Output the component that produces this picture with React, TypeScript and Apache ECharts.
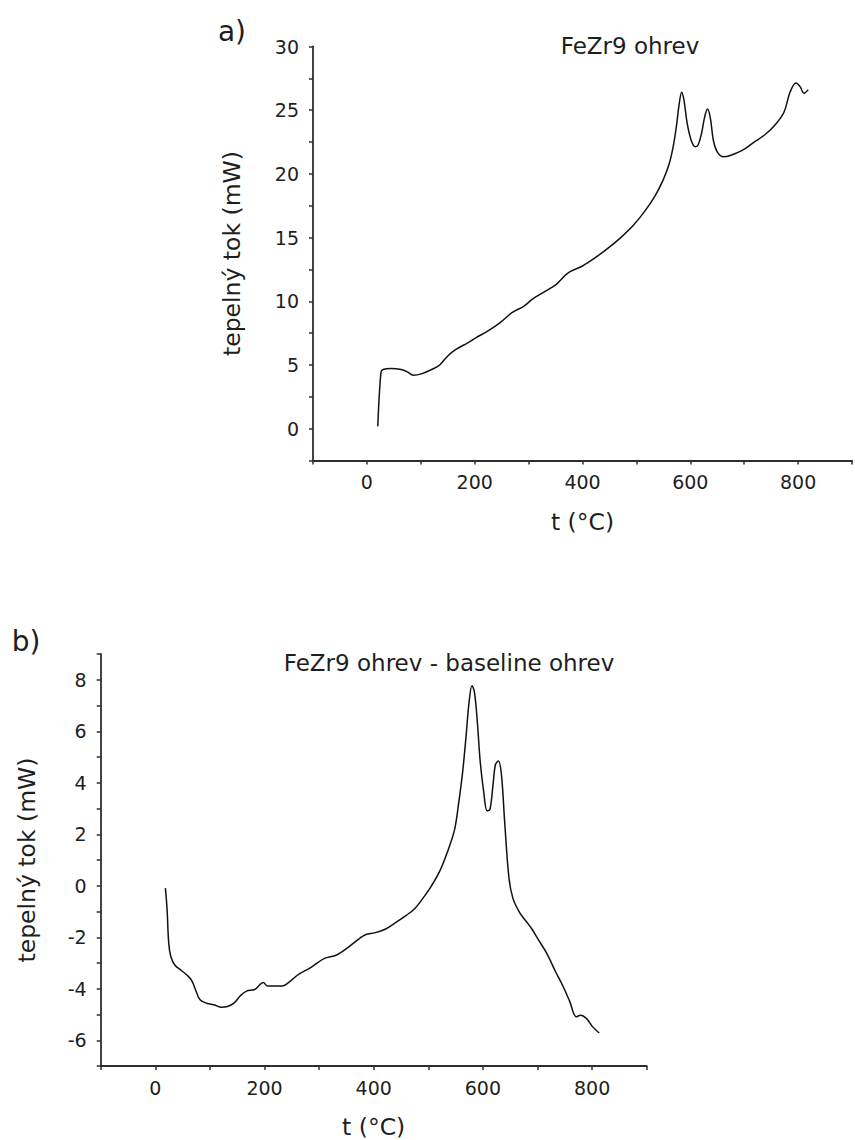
import React, { useEffect, useRef } from "react";
import * as echarts from "echarts";

// Panel a) FeZr9 ohrev
const tempA = [20.2, 26, 30, 45, 63.5, 75, 86, 101, 120, 134.6, 149.5, 164.5, 187, 202, 224, 246.7, 269, 291.6, 306.5, 329, 351.4, 374, 400, 422.4, 448.6, 471, 493.5, 516, 534.6, 549.5, 560.7, 568, 574, 579.4, 584, 588.4, 594.4, 601.9, 609.3, 614.6, 620.6, 626.5, 631.8, 637, 643, 650.5, 661.7, 673, 695.3, 717.8, 740, 758.7, 773.8, 785, 796, 803.7, 811, 818.7];
const flowA = [0.18, 4.4, 4.64, 4.72, 4.64, 4.46, 4.2, 4.3, 4.64, 4.98, 5.69, 6.2, 6.74, 7.13, 7.66, 8.31, 9.1, 9.62, 10.15, 10.73, 11.33, 12.25, 12.77, 13.38, 14.21, 15.0, 15.92, 17.1, 18.28, 19.51, 20.77, 22.08, 23.66, 25.49, 26.41, 25.75, 23.92, 22.6, 22.13, 22.29, 23.13, 24.44, 25.1, 24.44, 22.6, 21.69, 21.35, 21.43, 21.82, 22.48, 23.13, 23.92, 24.84, 26.41, 27.14, 26.85, 26.33, 26.6];

// Panel b) FeZr9 ohrev - baseline ohrev
const tempB = [18.5, 21.5, 24.6, 28.5, 36, 47.7, 59, 67, 74.6, 82, 94, 109, 121, 132, 144, 155, 167, 182, 198, 205, 217, 232, 248, 263, 286, 309, 332, 355, 375, 386, 402, 421, 440, 459, 475, 490, 505, 521, 536, 548, 555, 563, 569, 574.6, 580, 584.6, 590, 595, 601.5, 607.7, 613, 618.5, 623, 628.5, 634, 640, 647.7, 655, 667, 678.5, 690, 701.5, 717, 732, 748, 759, 771, 778.5, 790, 801.5, 813];
const flowB = [-0.09, -0.89, -2.23, -2.76, -3.09, -3.29, -3.49, -3.69, -4.09, -4.43, -4.56, -4.63, -4.72, -4.69, -4.56, -4.29, -4.09, -4.03, -3.76, -3.89, -3.89, -3.89, -3.69, -3.43, -3.16, -2.83, -2.69, -2.36, -2.03, -1.89, -1.83, -1.69, -1.43, -1.16, -0.89, -0.49, -0.03, 0.57, 1.37, 2.17, 3.11, 4.44, 5.77, 7.11, 7.77, 7.51, 6.31, 4.84, 3.64, 2.91, 2.97, 3.91, 4.71, 4.84, 4.31, 2.44, 0.31, -0.49, -1.03, -1.36, -1.69, -2.09, -2.63, -3.29, -3.96, -4.49, -5.09, -5.03, -5.16, -5.49, -5.72];

const panelLabels = ["a)", "b)"];
const panelTitles = ["FeZr9 ohrev", "FeZr9 ohrev - baseline ohrev"];
const xName = "t (°C)";
const yName = "tepelný tok (mW)";

const FONT = "DejaVu Sans";
const TEXT = "#1e1e1e";
const AXIS = "#2e2e2e";

function xAxisCfg(gridIndex: number) {
  return {
    type: "value",
    gridIndex,
    min: -100,
    max: 900,
    interval: 100,
    name: xName,
    nameLocation: "middle",
    nameGap: 49,
    nameTextStyle: { fontFamily: FONT, fontSize: 23.5, color: TEXT },
    axisLine: { onZero: false, lineStyle: { color: AXIS, width: 1.8 } },
    axisTick: { show: true, length: 4, lineStyle: { color: AXIS, width: 1.5 } },
    axisLabel: {
      margin: 12,
      fontFamily: FONT,
      fontSize: 19,
      color: TEXT,
      formatter: (v: number) => (v >= 0 && v % 200 === 0 ? String(v) : ""),
    },
    splitLine: { show: false },
  };
}

function yAxisCfg(gridIndex: number, min: number, max: number, interval: number, labelStep: number, nameGap: number) {
  return {
    type: "value",
    gridIndex,
    min,
    max,
    interval,
    name: yName,
    nameLocation: "middle",
    nameGap,
    nameRotate: 90,
    nameTextStyle: { fontFamily: FONT, fontSize: 23.5, color: TEXT },
    axisLine: { onZero: false, lineStyle: { color: AXIS, width: 1.8 } },
    axisTick: { show: true, length: 4, lineStyle: { color: AXIS, width: 1.5 } },
    axisLabel: {
      margin: 14,
      fontFamily: FONT,
      fontSize: 19,
      color: TEXT,
      formatter: (v: number) => {
        const r = Math.round(v * 1000) / 1000;
        if (Math.abs(r % labelStep) > 1e-6) return "";
        if (r < min + 1e-6) return "";
        return String(r);
      },
    },
    splitLine: { show: false },
  };
}

export default function App() {
  const ref = useRef<HTMLDivElement>(null);
  useEffect(() => {
    const chart = echarts.init(ref.current!, null, { renderer: "svg" });
    const dataA = tempA.map((t, i) => [t, flowA[i]]);
    const dataB = tempB.map((t, i) => [t, flowB[i]]);
    chart.setOption({
      animation: false,
      backgroundColor: "#fff",
      grid: [
        { left: 313, top: 46.5, width: 547, height: 414 },
        { left: 100.7, top: 654, width: 546, height: 414.5 },
      ],
      xAxis: [xAxisCfg(0), xAxisCfg(1)],
      yAxis: [
        yAxisCfg(0, -2.5, 30, 2.5, 5, 69),
        yAxisCfg(1, -7, 9, 1, 2, 62),
      ],
      series: [
        {
          type: "line",
          xAxisIndex: 0,
          yAxisIndex: 0,
          data: dataA,
          showSymbol: false,
          smooth: 0.35,
          lineStyle: { color: "#111", width: 1.5 },
        },
        {
          type: "line",
          xAxisIndex: 1,
          yAxisIndex: 1,
          data: dataB,
          showSymbol: false,
          smooth: 0.35,
          lineStyle: { color: "#111", width: 1.5 },
        },
      ],
      graphic: [
        {
          type: "text",
          x: 232,
          y: 31,
          style: { text: panelLabels[0], fontFamily: FONT, fontSize: 28, fill: TEXT, textAlign: "center", textVerticalAlign: "middle" },
        },
        {
          type: "text",
          x: 26,
          y: 641,
          style: { text: panelLabels[1], fontFamily: FONT, fontSize: 28, fill: TEXT, textAlign: "center", textVerticalAlign: "middle" },
        },
        {
          type: "text",
          x: 630,
          y: 46,
          style: { text: panelTitles[0], fontFamily: FONT, fontSize: 23, fill: TEXT, textAlign: "center", textVerticalAlign: "middle" },
        },
        {
          type: "text",
          x: 449,
          y: 663,
          style: { text: panelTitles[1], fontFamily: FONT, fontSize: 23, fill: TEXT, textAlign: "center", textVerticalAlign: "middle" },
        },
      ],
    });
    return () => chart.dispose();
  }, []);
  return (
    <div
      ref={ref}
      style={{ position: "absolute", left: 0, top: 0, width: 855, height: 1140, background: "#fff" }}
    />
  );
}
